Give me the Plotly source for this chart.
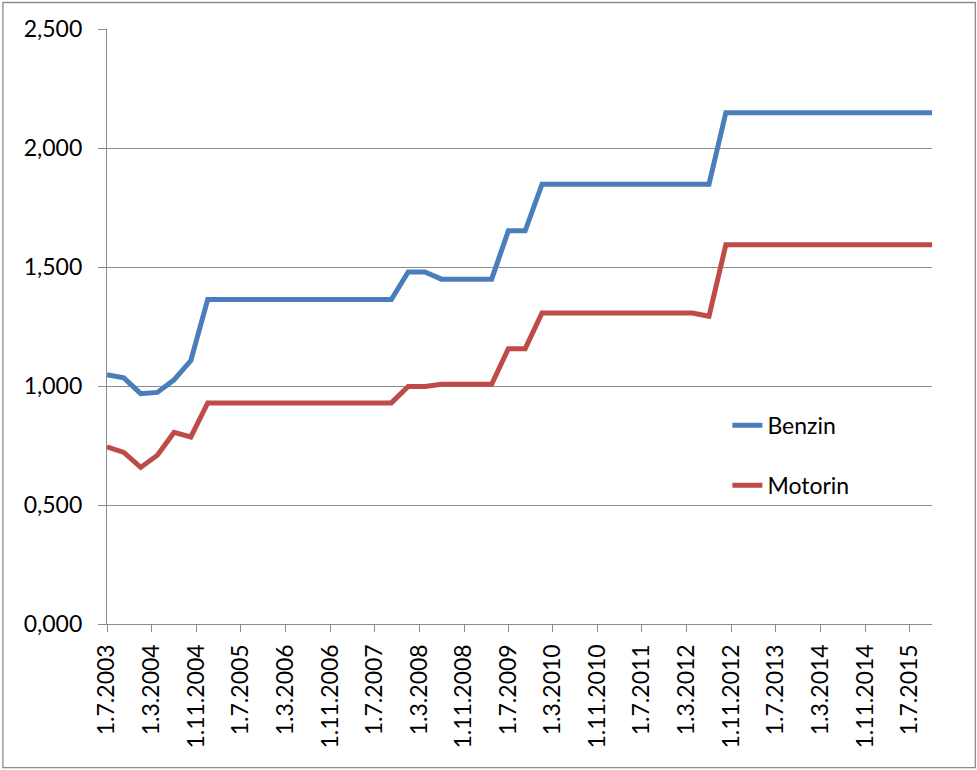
import plotly.graph_objects as go
import pandas as pd

# Quarterly observation dates (1st of month), final point closes the series at the axis end
dates = list(pd.date_range("2003-07-01", "2015-10-01", freq="3MS").strftime("%Y-%m-%d")) + ["2015-11-01"]

benzin = [1.047, 1.034, 0.968, 0.973, 1.026, 1.107,
          1.363, 1.363, 1.363, 1.363, 1.363, 1.363, 1.363, 1.363, 1.363, 1.363, 1.363, 1.363,
          1.479, 1.479, 1.449, 1.449, 1.449, 1.449,
          1.652, 1.652,
          1.848, 1.848, 1.848, 1.848, 1.848, 1.848, 1.848, 1.848, 1.848, 1.848, 1.848,
          2.148, 2.148, 2.148, 2.148, 2.148, 2.148, 2.148, 2.148, 2.148, 2.148, 2.148, 2.148, 2.148,
          2.148]

motorin = [0.744, 0.721, 0.658, 0.709, 0.805, 0.786,
           0.929, 0.929, 0.929, 0.929, 0.929, 0.929, 0.929, 0.929, 0.929, 0.929, 0.929, 0.929,
           0.998, 0.998, 1.007, 1.007, 1.007, 1.007,
           1.157, 1.157,
           1.307, 1.307, 1.307, 1.307, 1.307, 1.307, 1.307, 1.307, 1.307, 1.307, 1.293,
           1.593, 1.593, 1.593, 1.593, 1.593, 1.593, 1.593, 1.593, 1.593, 1.593, 1.593, 1.593, 1.593,
           1.593]

series_names = ["Benzin", "Motorin"]
series_colors = ["#4A7EBB", "#BE4B48"]

FONT = "Lato, Carlito, 'Liberation Sans', sans-serif"
GRID = "#8C8C8C"

fig = go.Figure()
for name, vals, col in zip(series_names, [benzin, motorin], series_colors):
    fig.add_trace(go.Scatter(x=dates, y=vals, mode="lines", name=name, legendgroup=name,
                             line=dict(color=col, width=5)))

fig.update_layout(
    width=977, height=770,
    margin=dict(l=107, r=45, t=29, b=146),
    paper_bgcolor="white", plot_bgcolor="white",
    separators=",.",
    font=dict(family=FONT, size=23, color="black"),
    showlegend=True,
    legend=dict(x=0.752, y=0.37, xanchor="left", yanchor="top",
                bgcolor="rgba(0,0,0,0)", font=dict(size=23),
                traceorder="grouped", tracegroupgap=27),
    xaxis=dict(type="date", range=["2003-07-01", "2015-11-01"],
               tick0="2003-07-01", dtick="M8", tickformat="%-d.%-m.%Y",
               tickangle=-90, ticks="outside", ticklen=7, tickcolor=GRID, tickwidth=1.3,
               showline=True, linecolor=GRID, linewidth=1.3, showgrid=False, zeroline=False,
               ticklabelstandoff=3),
    yaxis=dict(range=[0, 2.5], dtick=0.5, tickformat=".3f",
               ticks="outside", ticklen=8, tickcolor=GRID, tickwidth=1.3,
               showline=True, linecolor=GRID, linewidth=1.3,
               showgrid=True, gridcolor=GRID, gridwidth=1.3, zeroline=False,
               ticklabelstandoff=11),
    shapes=[dict(type="rect", xref="paper", yref="paper",
                 x0=-0.1262, x1=1.0525, y0=-0.2415, y1=1.0445,
                 line=dict(color="#8C8C8C", width=1.3), fillcolor="rgba(0,0,0,0)", layer="below")],
)

fig.write_html("out.html", config={"displayModeBar": False},
               post_script="document.body.style.margin='0';")
